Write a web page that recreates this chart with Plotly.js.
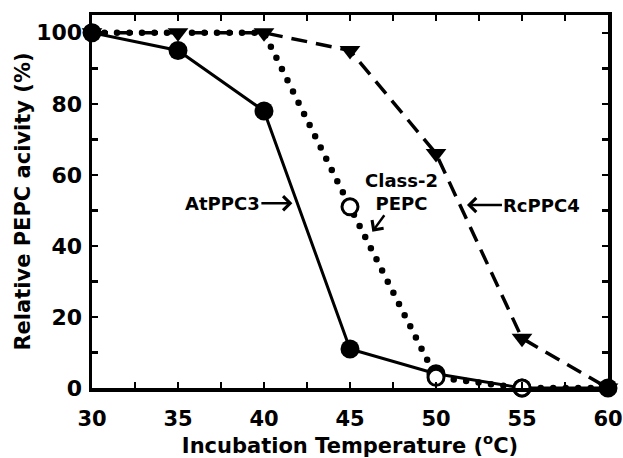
<!DOCTYPE html>
<html>
<head>
<meta charset="utf-8">
<script src="https://cdn.plot.ly/plotly-3.0.1.min.js"></script>
<style>
  html, body { margin: 0; padding: 0; background: #fff; }
  #chart { width: 623px; height: 458px; }
  .scatterlayer .trace:nth-of-type(3) .js-line { stroke-linecap: round; }
</style>
</head>
<body>
<div id="chart"></div>
<script>
// Data
const temperatures = [30, 35, 40, 45, 50, 55, 60];
const atppc3 = [100, 95, 78, 11, 4, 0, 0];
const class2pepc = [100, 100, 100, 51, 3, 0, 0];
const rcppc4 = [100, 100, 100, 95, 66, 14, 0];
const xTickVals = [30, 35, 40, 45, 50, 55, 60];
const yTickVals = [0, 20, 40, 60, 80, 100];
// per-point visibility of open circles (hidden under filled markers in the figure)
const class2MarkerOpacity = [0, 0, 0, 1, 1, 1, 0];

const FONT = 'DejaVu Sans, Liberation Sans, Arial, sans-serif';

const traces = [
  {
    name: 'RcPPC4', x: temperatures, y: rcppc4, type: 'scatter', mode: 'lines+markers',
    line: {color: '#000', width: 3.5, dash: '16px,9px'},
    marker: {symbol: 'triangle-down', size: 18, color: '#000'},
    cliponaxis: false
  },
  {
    name: 'AtPPC3', x: temperatures, y: atppc3, type: 'scatter', mode: 'lines+markers',
    line: {color: '#000', width: 3},
    marker: {symbol: 'circle', size: 19, color: '#000'},
    cliponaxis: false
  },
  {
    name: 'Class-2 PEPC', x: temperatures, y: class2pepc, type: 'scatter', mode: 'lines+markers',
    line: {color: '#000', width: 6.5, dash: '0px,12.5px'},
    marker: {symbol: 'circle', size: 16, color: '#fff', opacity: class2MarkerOpacity,
             line: {color: '#000', width: 3}},
    cliponaxis: false
  }
];

const axisCommon = {
  showgrid: false, zeroline: false, showline: true, linecolor: '#000', linewidth: 3.5,
  mirror: 'ticks', ticks: 'inside', ticklen: 6, tickwidth: 2.5, tickcolor: '#000'
};

const layout = {
  width: 623, height: 458,
  margin: {l: 92, r: 15, t: 15, b: 70},
  paper_bgcolor: '#fff', plot_bgcolor: '#fff',
  showlegend: false,
  font: {family: FONT, color: '#000'},
  xaxis: Object.assign({}, axisCommon, {
    range: [30, 60], tickmode: 'array', tickvals: xTickVals,
    tickfont: {family: FONT, size: 21, color: '#000', weight: 'bold'},
    minor: {dtick: 2.5, ticks: 'inside', ticklen: 6, tickwidth: 2.5, tickcolor: '#000'},
    ticklabelstandoff: 9,
    title: {text: 'Incubation Temperature (<sup>o</sup>C)', standoff: 16,
            font: {family: FONT, size: 21, color: '#000', weight: 'bold'}}
  }),
  yaxis: Object.assign({}, axisCommon, {
    range: [0, 105], tickmode: 'array', tickvals: yTickVals,
    tickfont: {family: FONT, size: 22, color: '#000', weight: 'bold'},
    minor: {dtick: 10, ticks: 'inside', ticklen: 6, tickwidth: 2.5, tickcolor: '#000'},
    ticklabelstandoff: 2,
    title: {text: 'Relative PEPC acivity (%)', standoff: 1,
            font: {family: FONT, size: 21, color: '#000', weight: 'bold'}}
  }),
  annotations: [
    {x: 41.65, y: 52, xref: 'x', yref: 'y', text: '<b>AtPPC3</b>', showarrow: true,
     ax: -70, ay: 0, arrowhead: 4, arrowsize: 1.1, arrowwidth: 2.5, arrowcolor: '#000',
     font: {family: FONT, size: 18, color: '#000'}},
    {x: 46.3, y: 44, xref: 'x', yref: 'y', text: '<b>Class-2<br>PEPC</b>', showarrow: true,
     ax: 29, ay: -40, arrowhead: 4, arrowsize: 1.1, arrowwidth: 2.5, arrowcolor: '#000',
     font: {family: FONT, size: 18, color: '#000'}},
    {x: 51.8, y: 51.5, xref: 'x', yref: 'y', text: '<b>RcPPC4</b>', showarrow: true,
     ax: 75, ay: 0, arrowhead: 4, arrowsize: 1.1, arrowwidth: 2.5, arrowcolor: '#000',
     font: {family: FONT, size: 18, color: '#000'}}
  ]
};

Plotly.newPlot('chart', traces, layout, {staticPlot: true, displayModeBar: false});
</script>
</body>
</html>
